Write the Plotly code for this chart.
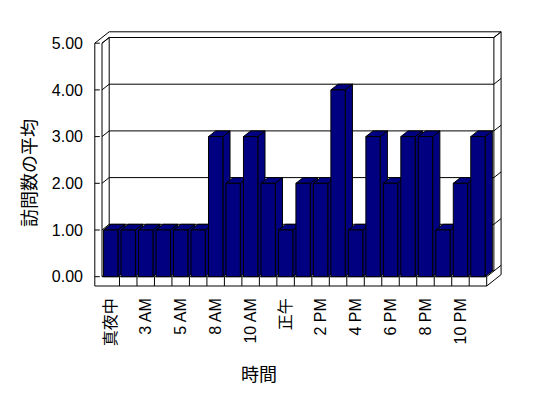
import plotly.graph_objects as go

# ---- data ----
hours = ["真夜中", "1 AM", "3 AM", "4 AM", "5 AM", "7 AM", "8 AM", "9 AM", "10 AM", "11 AM",
         "正午", "1 PM", "2 PM", "3 PM", "4 PM", "5 PM", "6 PM", "7 PM", "8 PM", "9 PM", "10 PM", "11 PM"]
visits = [1, 1, 1, 1, 1, 1, 3, 2, 3, 2, 1, 2, 2, 4, 1, 3, 2, 3, 3, 1, 2, 3]
y_ticks = [0, 1, 2, 3, 4, 5]
y_tick_labels = ["0.00", "1.00", "2.00", "3.00", "4.00", "5.00"]
shown_every = 2

# ---- layout geometry (window pixels; the page body has an 8px margin) ----
OFF = 8
W, H = 548 - OFF, 398 - 2 * OFF
PL, PR, PT, PB = 90, 506, 28, 290          # plot area in window px
ML, MT = PL - OFF, PT - OFF
MR, MB = W - (PR - OFF), H - (PB - OFF)
PW, PH = PR - PL, PB - PT
SX = 17.486      # px per category
SY = 46.7        # px per unit value
FLOOR_LEFT_PX = 102      # window px of x=-0.5 on front plane
ZERO_PX = 276.7          # window px of y=0 on front plane
x0 = -0.5 - (FLOOR_LEFT_PX - PL) / SX
x1 = x0 + PW / SX
y0 = -(PB - ZERO_PX) / SY
y1 = y0 + PH / SY

dx = 7.2 / SX    # depth offset
dy = 5.7 / SY
ft = 9.3 / SY    # floor thickness
tick = 5.0 / SX
bw = 0.82        # bar width (category units)

n = len(visits)
XL, XR = -0.5, n - 0.5
TOP = max(y_ticks)
NAVY = "#000080"

shapes = []


def line(xa, ya, xb, yb):
    shapes.append(dict(type="line", xref="x", yref="y", x0=xa, y0=ya, x1=xb, y1=yb,
                       line=dict(color="black", width=1), layer="below"))


# left wall (front face + inner face)
line(XL - dx, -ft, XL - dx, TOP)
line(XL, 0, XL, TOP)
line(XL - dx, TOP, XL + dx, TOP + 2 * dy)
line(XL, TOP, XL + dx, TOP + dy)
line(XL + dx, dy, XL + dx, TOP + dy)
# back wall
line(XL + dx, TOP + 2 * dy, XR + 2 * dx, TOP + 2 * dy)
line(XR + dx, TOP + dy, XR + 2 * dx, TOP + 2 * dy)
line(XR + 2 * dx, TOP + 2 * dy, XR + 2 * dx, -ft + 2 * dy)
line(XR + dx, dy, XR + dx, TOP + dy)
for v in y_ticks:
    line(XL + dx, v + dy, XR + dx, v + dy)          # gridline on back wall
    line(XL, v, XL + dx, v + dy)                     # left wall diagonal
    line(XR + dx, v + dy, XR + 2 * dx, v + 2 * dy)   # right edge diagonal
    line(XL - dx, v, XL - dx + tick, v)              # axis tick
# floor
line(XL, 0, XR, 0)
line(XL - dx, -ft, XR, -ft)
for k in range(1, n + 1):
    line(k - 0.5, -ft, k - 0.5, 0)
line(XR, 0, XR + dx, dy)
line(XR, -ft, XR + 2 * dx, -ft + 2 * dy)

# bar caps (side + top faces), drawn left to right
for i, h in enumerate(visits):
    a, b = i - bw / 2, i + bw / 2
    side = f"M {b},0 L {b},{h} L {b + dx},{h + dy} L {b + dx},{dy} Z"
    top = f"M {a},{h} L {b},{h} L {b + dx},{h + dy} L {a + dx},{h + dy} Z"
    for p in (side, top):
        shapes.append(dict(type="path", xref="x", yref="y", path=p, fillcolor=NAVY,
                           line=dict(color="black", width=1), layer="below"))

FONT = "Liberation Sans, Arial, Noto Sans CJK JP, sans-serif"

fig = go.Figure(go.Bar(
    x=list(range(n)), y=visits, width=bw,
    marker=dict(color=NAVY, line=dict(color="black", width=1)),
    hovertext=hours,
))

fig.update_layout(
    width=W, height=H,
    margin=dict(l=ML, r=MR, t=MT, b=MB, pad=0, autoexpand=False),
    paper_bgcolor="white", plot_bgcolor="white",
    showlegend=False,
    shapes=shapes,
    font=dict(family=FONT, size=16, color="black"),
    xaxis=dict(range=[x0, x1], showgrid=False, zeroline=False, showline=False,
               tickmode="array", tickvals=list(range(0, n, shown_every)),
               ticktext=hours[::shown_every], tickangle=-90, ticks="",
               ticklabelstandoff=4, tickfont=dict(size=16), automargin=False),
    yaxis=dict(range=[y0, y1], showgrid=False, zeroline=False, showline=False,
               tickmode="array", tickvals=y_ticks, ticktext=y_tick_labels, ticks="",
               ticklabelstandoff=6, tickfont=dict(size=16), automargin=False),
    annotations=[
        dict(text="時間", xref="paper", yref="paper",
             x=(259 - PL) / PW, y=(PB - 375) / PH,
             showarrow=False, font=dict(size=18), xanchor="center", yanchor="middle"),
        dict(text="訪問数の平均", xref="paper", yref="paper",
             x=(30 - PL) / PW, y=(PB - 173) / PH, textangle=-90,
             showarrow=False, font=dict(size=18), xanchor="center", yanchor="middle"),
    ],
)

fig.write_html("out.html")
